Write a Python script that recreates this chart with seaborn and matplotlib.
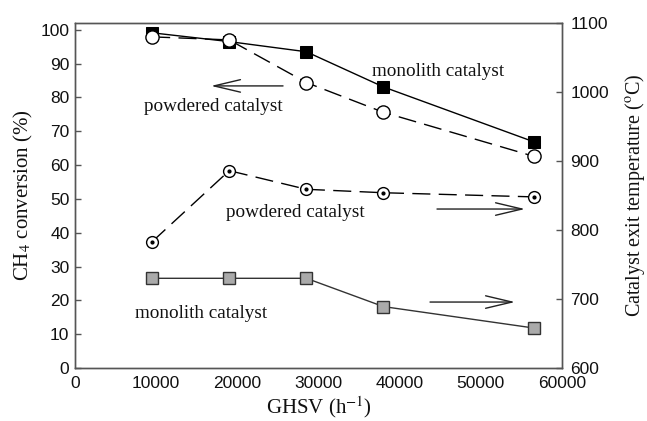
import matplotlib
matplotlib.use("Agg")
import matplotlib.pyplot as plt
import seaborn as sns
import numpy as np

# ---- data ----
ghsv = [9500, 19000, 28500, 38000, 56500]
conv_monolith = [99.1, 96.5, 93.5, 83.1, 66.9]
conv_powder = [97.9, 97.0, 84.4, 75.6, 62.6]
temp_powder = [783, 886, 859, 854, 848]
temp_monolith = [730, 730, 730, 689, 658]

xticks = [0, 10000, 20000, 30000, 40000, 50000, 60000]
yticks_left = [0, 10, 20, 30, 40, 50, 60, 70, 80, 90, 100]
yticks_right = [600, 700, 800, 900, 1000, 1100]

sns.set_theme(style="white")
plt.rcParams['font.family'] = ['Liberation Sans', 'DejaVu Sans']
plt.rcParams['mathtext.fontset'] = 'stix'

spine_col = '#555555'
serif = ['Liberation Serif', 'DejaVu Serif']

fig = plt.figure(figsize=(6.47, 4.21), dpi=100)
ax = fig.add_axes([75/647, 1-368/421, (562-75)/647, (368-23)/421])
ax2 = ax.twinx()

dash = (0, (13, 6))

sns.lineplot(x=ghsv, y=conv_monolith, ax=ax, color='black', lw=1.0,
             marker='s', markersize=8.5, markerfacecolor='black',
             markeredgecolor='black', zorder=5)
sns.lineplot(x=ghsv, y=conv_powder, ax=ax, color='black', lw=1.0,
             linestyle=dash, marker='o', markersize=9.5,
             markerfacecolor='white', markeredgecolor='black',
             markeredgewidth=1.0, zorder=6)

sns.lineplot(x=ghsv, y=temp_powder, ax=ax2, color='black', lw=1.0,
             linestyle=dash, marker='o', markersize=8.5,
             markerfacecolor='white', markeredgecolor='black',
             markeredgewidth=1.0, zorder=5)
ax2.plot(ghsv, temp_powder, linestyle='none', marker='o', markersize=2,
         color='black', zorder=6)
sns.lineplot(x=ghsv, y=temp_monolith, ax=ax2, color='#333333', lw=1.0,
             marker='s', markersize=8, markerfacecolor='#aaaaaa',
             markeredgecolor='#333333', markeredgewidth=1.0, zorder=5)

ax.set_xlim(0, 60000)
ax.set_ylim(0, 102)
ax2.set_ylim(600, 1100)
ax.set_xticks(xticks)
ax.set_xticklabels([str(t) for t in xticks])
ax.set_yticks(yticks_left)
ax2.set_yticks(yticks_right)

for a in (ax, ax2):
    for s in a.spines.values():
        s.set_color(spine_col)
        s.set_linewidth(1.0)
    a.tick_params(direction='in', length=4, width=1, color=spine_col,
                  labelsize=12.5, labelcolor='#111111', pad=4)
ax.tick_params(axis='x', pad=6)
ax.tick_params(axis='y', which='both', right=False)
ax2.tick_params(axis='y', left=False, right=True, labelright=True, pad=6)

ax.set_xlabel(r'GHSV (h$^{-1}$)', fontsize=15, family=serif, color='#111111', labelpad=2)
ax.set_ylabel(r'CH$_4$ conversion (%)', fontsize=15, family=serif, color='#111111', labelpad=4)
ax2.set_ylabel(r'Catalyst exit temperature ($^{\rm o}$C)', fontsize=14.5, family=serif,
               color='#111111', labelpad=10)

tk = dict(fontsize=13.8, family=serif, color='#111111', ha='center', va='center')
ax.text(44700, 87.6, 'monolith catalyst', **tk)
ax.text(17060, 77.2, 'powdered catalyst', **tk)
ax.text(27100, 45.9, 'powdered catalyst', **tk)
ax.text(15520, 16.0, 'monolith catalyst', **tk)

ap = dict(arrowstyle='->,head_length=1.9,head_width=0.45', color='#222222',
          lw=1.0, shrinkA=0, shrinkB=0, mutation_scale=10)
ax.annotate('', xy=(16760, 83.4), xytext=(25630, 83.4), arrowprops=ap)
ax.annotate('', xy=(55440, 47.0), xytext=(44600, 47.0), arrowprops=ap)
ax.annotate('', xy=(54210, 19.5), xytext=(43740, 19.5), arrowprops=ap)

fig.savefig('out.png', dpi=100)
